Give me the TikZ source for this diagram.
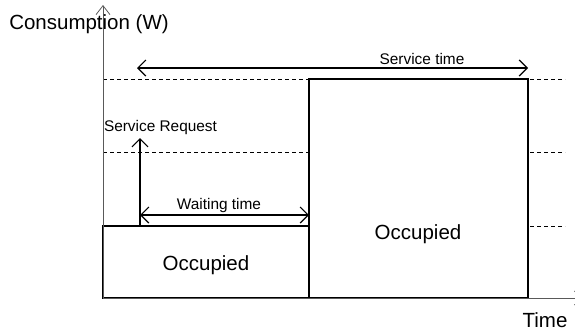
\documentclass[tikz,border=0pt]{standalone}
\usepackage{fontspec}
\setmainfont{Liberation Sans}
\usetikzlibrary{arrows.meta}
\begin{document}
\begin{tikzpicture}[x=1pt,y=-1pt,
	>={Straight Barb[length=8pt,width=16pt]},
	every node/.style={inner sep=0,outer sep=0},
	big/.style={font=\fontsize{20.5}{24}\selectfont},
	small/.style={font=\fontsize{15.4}{18}\selectfont},
	occbox/.style={draw,fill=white,line width=1.3pt,anchor=south west},
	guide/.style={line width=0.7pt,dash pattern=on 4pt off 3pt},
	axis/.style={black!65,line width=0.8pt,-{Straight Barb[length=9pt,width=14pt]}},
	span/.style={line width=1.2pt,<->},
	request/.style={line width=1.2pt,->}]
\useasboundingbox (0,0) rectangle (575,333);
\coordinate (O) at (103,298);
\coordinate (ytop) at (103,5);
\coordinate (xend) at (584,298);
% levels
\foreach \y in {79,152,226}
	\draw[guide] (103,\y) -- (565,\y);
% occupied periods
\node[occbox,minimum width=206pt,minimum height=72pt] (occ1) at (O) {};
\node[occbox,minimum width=219pt,minimum height=219pt] (occ2) at (occ1.south east) {};
% axes
\draw[axis] (O) -- (ytop);
\draw[axis] (O) -- (xend);
% arrows
\coordinate (req) at (140,138);
\coordinate (wstart) at (140,215);
\coordinate (sstart) at (137,68);
\draw[request] (req |- occ1.north) -- (req);
\draw[span] (wstart) -- (wstart -| occ2.west);
\draw[span] (sstart) -- (sstart -| occ2.east);
% labels
\node[big,anchor=base] (ylabel) at (89,29) {Consumption (W)};
\node[big,anchor=base] (xlabel) at (545,327) {Time};
\node[big,anchor=base] (occ1label) at (206,270) {Occupied};
\node[big,anchor=base] (occ2label) at (418,239.5) {Occupied};
\node[small,anchor=base] (stlabel) at (422,64) {Service time};
\node[small,anchor=base] (wtlabel) at (219,209.5) {Waiting time};
\node[small,anchor=base west] (reqlabel) at (104,131) {Service Request};
\end{tikzpicture}
\end{document}
